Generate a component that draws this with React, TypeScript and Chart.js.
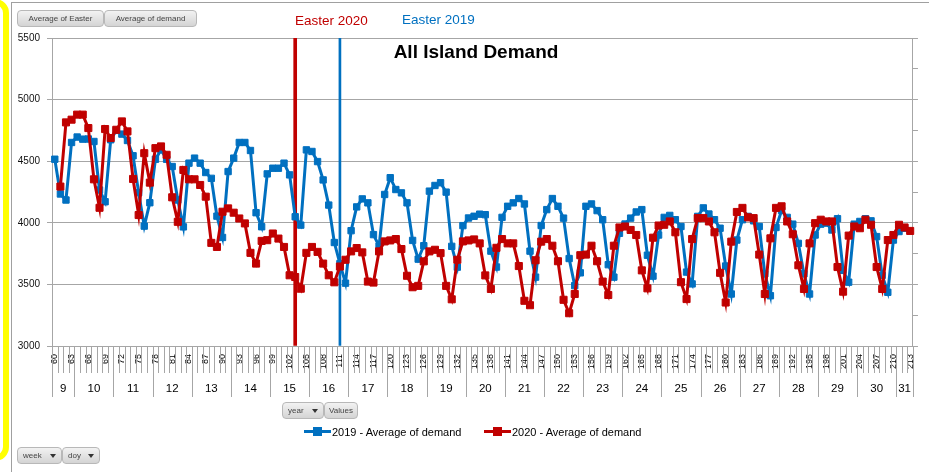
import React, { useEffect, useRef } from "react";
import { Chart, registerables } from "chart.js";

Chart.register(...registerables);

// ---- data ----
const firstDoy = 60;
const lastDoy = 213;
const doy: number[] = Array.from({ length: lastDoy - firstDoy + 1 }, (_, i) => firstDoy + i);

const weekNumbers = [9, 10, 11, 12, 13, 14, 15, 16, 17, 18, 19, 20, 21, 22, 23, 24, 25, 26, 27, 28, 29, 30, 31];
const weekStartDoy = [60, 64, 71, 78, 85, 92, 99, 106, 113, 120, 127, 134, 141, 148, 155, 162, 169, 176, 183, 190, 197, 204, 211];

const yTickMin = 3000;
const yTickMax = 5500;
const yTickStep = 500;

const easter2020Doy = 103;
const easter2019Doy = 111;

// 2019 - Average of demand, doy 60..213
const demand2019: (number | null)[] = [
  4516, 4234, 4185, 4652, 4696, 4679, 4680, 4660, 4266, 4171,
  4674, 4750, 4720, 4668, 4544, 4245, 3973, 4163, 4516, 4592,
  4516, 4457, 4185, 3967, 4484, 4525, 4484, 4408, 4361, 4054,
  3881, 4416, 4525, 4652, 4652, 4587, 4082, 3968, 4397, 4443,
  4443, 4484, 4389, 4049, 3981, 4592, 4579, 4497, 4348, 4144,
  3840, 3669, 3510, 3936, 4129, 4194, 4162, 3904, 3810, 4230,
  4366, 4270, 4243, 4162, 3857, 3705, 3814, 4257, 4303, 4325,
  4249, 3809, 3640, 3977, 4039, 4053, 4070, 4066, 3770, 3641,
  4044, 4134, 4162, 4197, 4153, 3770, 3559, 3978, 4107, 4197,
  4134, 4038, 3710, 3490, 3594, 4134, 4153, 4099, 4025, 3660,
  3559, 3915, 3990, 4038, 4088, 4107, 3737, 3567, 3901, 4044,
  4060, 4025, 3970, 3600, 3504, 4052, 4121, 4071, 4025, 3956,
  3649, 3422, 3860, 4025, 4052, 4016, 3970, 3586, 3408, 3962,
  4100, 4044, 3989, 3833, 3586, 3422, 3901, 3989, 3997, 3942,
  4033, 3614, 3518, 3989, 4011, 4033, 4016, 3888, 3573, 3436,
  3860, 3929, 3956, null,
];

// 2020 - Average of demand, doy 60..213
const demand2020: (number | null)[] = [
  null, 4294, 4815, 4837, 4878, 4878, 4769, 4353, 4122, 4761,
  4688, 4755, 4823, 4742, 4356, 4063, 4565, 4326, 4606, 4620,
  4552, 4207, 4008, 4429, 4353, 4353, 4307, 4212, 3837, 3804,
  4090, 4117, 4082, 4035, 3995, 3756, 3669, 3853, 3859, 3913,
  3872, 3804, 3574, 3560, 3465, 3756, 3804, 3764, 3669, 3574,
  3517, 3645, 3700, 3768, 3795, 3760, 3523, 3515, 3768, 3849,
  3857, 3868, 3787, 3570, 3477, 3488, 3687, 3768, 3781, 3754,
  3488, 3379, 3700, 3849, 3857, 3865, 3833, 3573, 3463, 3797,
  3868, 3833, 3833, 3649, 3367, 3331, 3696, 3847, 3868, 3814,
  3688, 3375, 3266, 3422, 3737, 3742, 3814, 3688, 3523, 3414,
  3814, 3962, 3970, 3942, 3901, 3614, 3468, 3879, 3978, 3984,
  4011, 3923, 3518, 3381, 3868, 4038, 4038, 4011, 3923, 3594,
  3353, 3847, 4088, 4121, 4044, 4038, 3742, 3422, 3874, 4121,
  4134, 4011, 3907, 3655, 3463, 3833, 3997, 4025, 4011, 4011,
  3641, 3441, 3896, 3970, 3956, 4025, 3984, 3641, 3463, 3860,
  3901, 3984, 3962, 3934,
];

const BLUE = "#0070C0";
const RED = "#C00000";
const GRID = "#a6a6a6";
const FONT = '"Liberation Sans", Arial, sans-serif';

const easter2020Bar = doy.map((d) => (d === easter2020Doy ? 1 : null));
const easter2019Bar = doy.map((d) => (d === easter2019Doy ? 1 : null));

const axisDecor = {
  id: "axisDecor",
  afterDraw(chart: any) {
    const { ctx, chartArea } = chart;
    const x = chart.scales.x;
    const w = x.getPixelForValue(1) - x.getPixelForValue(0);
    const boundary = (i: number) => x.getPixelForValue(0) - w / 2 + i * w;
    const top = chartArea.bottom;
    ctx.save();
    ctx.strokeStyle = GRID;
    ctx.lineWidth = 1;
    ctx.beginPath();
    for (let i = 0; i <= doy.length; i++) {
      const px = Math.round(boundary(i)) + 0.5;
      ctx.moveTo(px, top);
      ctx.lineTo(px, top + 27);
    }
    const weekIdx = weekStartDoy.map((d) => d - firstDoy).concat([doy.length]);
    weekIdx.forEach((i) => {
      const px = Math.round(boundary(i)) + 0.5;
      ctx.moveTo(px, top);
      ctx.lineTo(px, top + 51);
    });
    ctx.stroke();
    ctx.fillStyle = "#000";
    ctx.font = `11.5px ${FONT}`;
    ctx.textAlign = "center";
    ctx.textBaseline = "middle";
    weekNumbers.forEach((wk, k) => {
      const a = boundary(weekIdx[k]);
      const b = boundary(weekIdx[k + 1]);
      ctx.fillText(String(wk), (a + b) / 2, top + 43);
    });
    ctx.restore();
  },
};

function Arrow() {
  return (
    <span
      style={{
        display: "inline-block",
        width: 0,
        height: 0,
        borderLeft: "3px solid transparent",
        borderRight: "3px solid transparent",
        borderTop: "4px solid #333",
        marginLeft: 4,
      }}
    />
  );
}

function Btn(props: { left: number; top: number; width: number; text: string; arrow?: boolean }) {
  return (
    <div
      style={{
        position: "absolute",
        left: props.left,
        top: props.top,
        width: props.width,
        height: 17,
        boxSizing: "border-box",
        border: "1px solid #b8b8b8",
        borderRadius: 4,
        background: "linear-gradient(#f2f2f2, #d4d4d4)",
        fontSize: 8,
        color: "#444",
        display: "flex",
        alignItems: "center",
        justifyContent: props.arrow ? "space-between" : "center",
        padding: "0 5px",
        whiteSpace: "nowrap",
      }}
    >
      <span>{props.text}</span>
      {props.arrow ? <Arrow /> : null}
    </div>
  );
}

function LegendItem(props: { left: number; color: string; text: string }) {
  return (
    <>
      <div style={{ position: "absolute", left: props.left, top: 430, width: 27, height: 3, background: props.color }} />
      <div style={{ position: "absolute", left: props.left + 9, top: 427, width: 9, height: 9, background: props.color }} />
      <div
        style={{
          position: "absolute",
          left: props.left + 28,
          top: 425,
          fontSize: 11,
          lineHeight: "14px",
          color: "#000",
          whiteSpace: "nowrap",
        }}
      >
        {props.text}
      </div>
    </>
  );
}

export default function App() {
  const ref = useRef<HTMLCanvasElement>(null);

  useEffect(() => {
    Chart.defaults.font.family = FONT;
    const chart = new Chart(ref.current as HTMLCanvasElement, {
      type: "line",
      data: {
        labels: doy.map(String),
        datasets: [
          {
            type: "line",
            label: "2020 - Average of demand",
            data: demand2020,
            borderColor: RED,
            backgroundColor: RED,
            borderWidth: 3,
            pointStyle: "rect",
            pointRadius: 5,
            pointBorderWidth: 1,
            pointBorderColor: RED,
            pointBackgroundColor: RED,
            tension: 0,
            yAxisID: "y",
            order: 1,
          },
          {
            type: "line",
            label: "2019 - Average of demand",
            data: demand2019,
            borderColor: BLUE,
            backgroundColor: BLUE,
            borderWidth: 3,
            pointStyle: "rect",
            pointRadius: 4.5,
            pointBorderWidth: 1,
            pointBorderColor: BLUE,
            pointBackgroundColor: BLUE,
            tension: 0,
            yAxisID: "y",
            order: 2,
          },
          {
            type: "bar",
            label: "Easter 2020",
            data: easter2020Bar,
            backgroundColor: RED,
            barThickness: 3,
            grouped: false,
            yAxisID: "y2",
            order: 3,
          } as any,
          {
            type: "bar",
            label: "Easter 2019",
            data: easter2019Bar,
            backgroundColor: BLUE,
            barThickness: 2,
            grouped: false,
            yAxisID: "y2",
            order: 4,
          } as any,
        ],
      },
      options: {
        responsive: false,
        devicePixelRatio: 1,
        animation: false,
        layout: { padding: { top: 38, left: 0, right: 0, bottom: 0 } },
        plugins: {
          legend: { display: false },
          tooltip: { enabled: false },
          title: { display: false },
        },
        scales: {
          x: {
            type: "category",
            offset: true,
            grid: { display: false, drawTicks: false },
            border: { display: true, color: GRID },
            ticks: {
              autoSkip: false,
              maxRotation: 90,
              minRotation: 90,
              padding: 8,
              color: "#000",
              font: { size: 9 },
              callback: (_v: any, i: number) => ((doy[i] - firstDoy) % 3 === 0 ? String(doy[i]) : ""),
            },
            afterFit: (s: any) => {
              s.height = 126;
            },
          },
          y: {
            position: "left",
            min: yTickMin,
            max: yTickMax,
            ticks: {
              stepSize: yTickStep,
              padding: 7,
              color: "#111",
              font: { size: 10 },
              callback: (v: any) => String(v),
            },
            grid: { color: GRID, tickLength: 5, drawTicks: true },
            border: { display: true, color: GRID },
            afterFit: (s: any) => {
              s.width = 52;
            },
          },
          y2: {
            position: "right",
            min: 0,
            max: 1,
            ticks: { display: false, stepSize: 0.1 },
            grid: { drawOnChartArea: false, color: GRID, tickLength: 5, drawTicks: true },
            border: { display: true, color: GRID },
            afterFit: (s: any) => {
              s.width = 8;
            },
          },
        },
      },
      plugins: [axisDecor],
    } as any);
    return () => chart.destroy();
  }, []);

  return (
    <div
      style={{
        position: "fixed",
        left: 0,
        top: 0,
        width: 929,
        height: 472,
        overflow: "hidden",
        background: "#fff",
        fontFamily: FONT,
      }}
    >
      <div
        style={{
          position: "absolute",
          left: -200,
          top: -1,
          width: 209,
          height: 462,
          boxSizing: "border-box",
          border: "6px solid #FFFF00",
          borderRadius: 14,
        }}
      />
      <div
        style={{
          position: "absolute",
          left: 11,
          top: 2,
          width: 1000,
          height: 1000,
          borderLeft: "1px solid #a0a0a0",
          borderTop: "1px solid #a0a0a0",
        }}
      />
      <canvas
        ref={ref}
        width={929}
        height={472}
        style={{ position: "absolute", left: 0, top: 0, width: 929, height: 472 }}
      />
      <div
        style={{
          position: "absolute",
          left: 476,
          top: 51,
          transform: "translate(-50%, -50%)",
          fontSize: 19,
          fontWeight: "bold",
          lineHeight: 1,
          whiteSpace: "nowrap",
          color: "#000",
        }}
      >
        All Island Demand
      </div>
      <div
        style={{ position: "absolute", left: 295, top: 13, fontSize: 13.5, lineHeight: "16px", color: RED, whiteSpace: "nowrap" }}
      >
        Easter 2020
      </div>
      <div
        style={{ position: "absolute", left: 402, top: 12, fontSize: 13.5, lineHeight: "16px", color: BLUE, whiteSpace: "nowrap" }}
      >
        Easter 2019
      </div>
      <Btn left={17} top={10} width={87} text="Average of Easter" />
      <Btn left={104} top={10} width={93} text="Average of demand" />
      <Btn left={282} top={402} width={42} text="year" arrow />
      <Btn left={324} top={402} width={34} text="Values" />
      <Btn left={17} top={447} width={45} text="week" arrow />
      <Btn left={62} top={447} width={38} text="doy" arrow />
      <LegendItem left={304} color={BLUE} text="2019 - Average of demand" />
      <LegendItem left={484} color={RED} text="2020 - Average of demand" />
    </div>
  );
}
